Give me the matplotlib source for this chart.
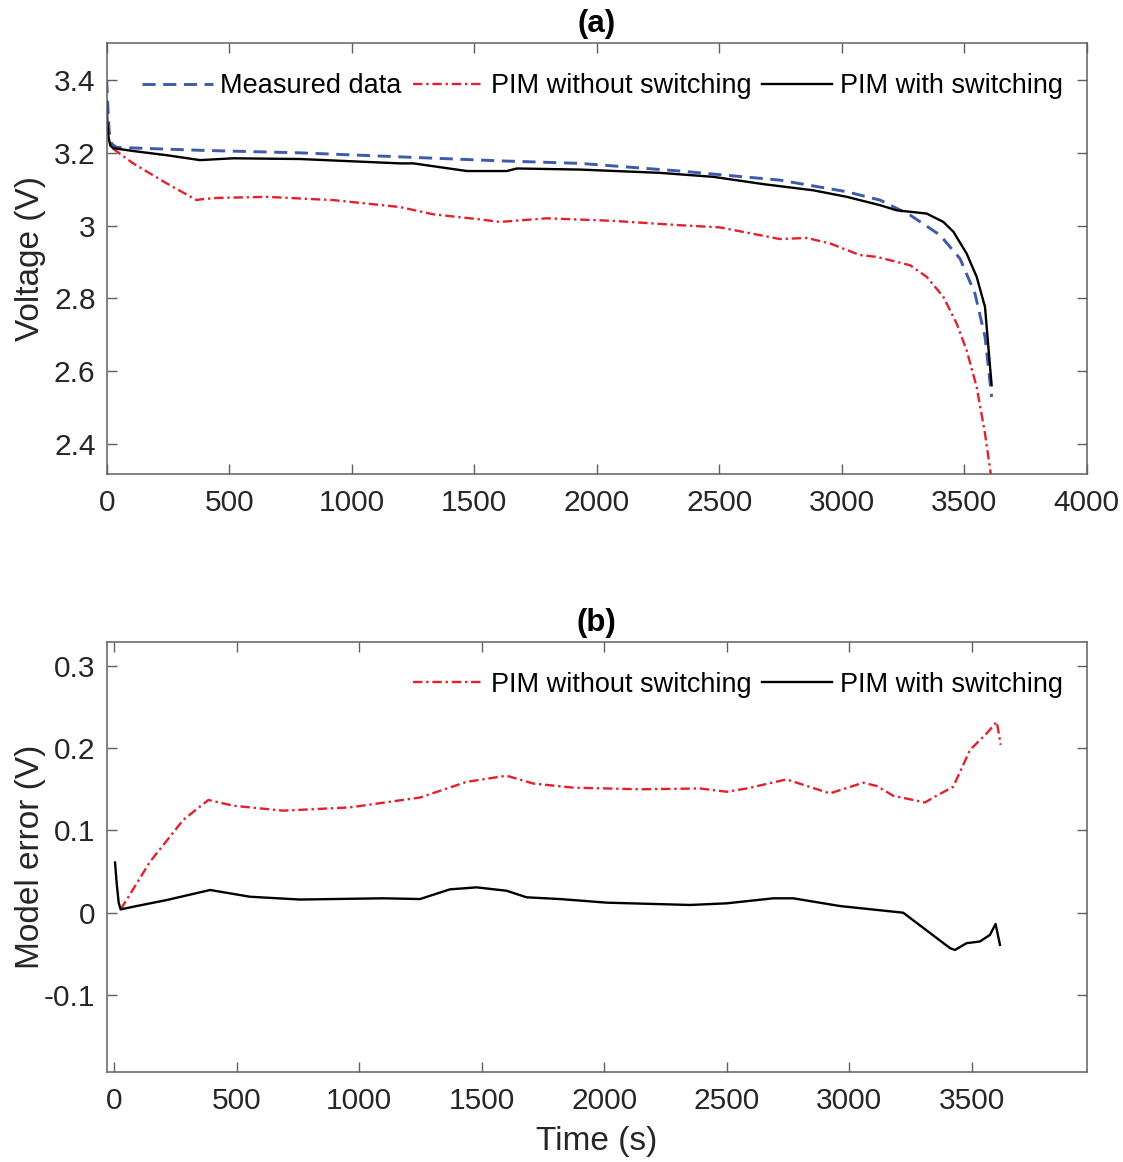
import matplotlib
matplotlib.use("Agg")
import matplotlib.pyplot as plt

plt.rcParams['font.family'] = ['Liberation Sans', 'DejaVu Sans']
plt.rcParams['axes.unicode_minus'] = False

# ---- data (a) ----
meas_t = [0, 5, 10, 20, 40, 381, 789, 1197, 1605, 1932, 2340, 2748, 3021, 3157,
          3279, 3401, 3483, 3544, 3585, 3612]
meas_v = [3.40, 3.32, 3.26, 3.225, 3.215, 3.207, 3.200, 3.189, 3.178, 3.171, 3.150,
          3.125, 3.093, 3.070, 3.029, 2.974, 2.909, 2.813, 2.694, 2.529]

sw_t = [0, 3, 8, 15, 26, 108, 250, 381, 517, 789, 1197, 1252, 1470, 1605, 1633, 1674,
        1932, 2258, 2476, 2680, 2884, 3021, 3157, 3224, 3347, 3415, 3456, 3510, 3551,
        3585, 3602, 3612]
sw_v = [3.34, 3.28, 3.24, 3.22, 3.213, 3.205, 3.193, 3.180, 3.185, 3.183, 3.171, 3.171,
        3.150, 3.150, 3.150, 3.157, 3.154, 3.145, 3.134, 3.114, 3.097, 3.079, 3.056,
        3.042, 3.033, 3.010, 2.983, 2.923, 2.859, 2.776, 2.639, 2.561]

nosw_t = [25, 108, 245, 367, 381, 449, 653, 925, 1197, 1333, 1524, 1605, 1796, 2068,
          2340, 2503, 2748, 2857, 2952, 3074, 3143, 3279, 3347, 3415, 3469, 3510, 3551,
          3585, 3608, 3622]
nosw_v = [3.212, 3.171, 3.116, 3.070, 3.072, 3.076, 3.079, 3.070, 3.051, 3.031, 3.017,
          3.010, 3.020, 3.013, 3.001, 2.995, 2.963, 2.966, 2.951, 2.919, 2.914, 2.891,
          2.859, 2.804, 2.731, 2.657, 2.556, 2.428, 2.319, 2.20]

# ---- data (b) ----
err_nosw_t = [26, 146, 282, 384, 486, 690, 962, 1248, 1438, 1601, 1710, 1873, 2146,
              2391, 2500, 2581, 2744, 2921, 3057, 3112, 3180, 3309, 3343, 3424, 3493,
              3561, 3602, 3618]
err_nosw = [0.004, 0.062, 0.113, 0.137, 0.130, 0.124, 0.128, 0.140, 0.159, 0.1665,
            0.157, 0.152, 0.150, 0.151, 0.147, 0.151, 0.162, 0.145, 0.158, 0.154,
            0.142, 0.134, 0.140, 0.153, 0.198, 0.218, 0.232, 0.204]

err_sw_t = [3, 10, 18, 26, 78, 214, 391, 554, 758, 1097, 1248, 1370, 1479, 1601, 1683,
            1819, 2010, 2350, 2500, 2690, 2771, 2962, 3220, 3411, 3431, 3479, 3533,
            3574, 3597, 3615]
err_sw = [0.061, 0.035, 0.012, 0.004, 0.0073, 0.0154, 0.0276, 0.0194, 0.016, 0.0175,
          0.0166, 0.0284, 0.0308, 0.0267, 0.0187, 0.0166, 0.0122, 0.0094, 0.0114,
          0.0175, 0.0175, 0.0081, 0.000, -0.043, -0.0453, -0.037, -0.035, -0.027,
          -0.0137, -0.039]

xticks_a = [0, 500, 1000, 1500, 2000, 2500, 3000, 3500, 4000]
yticks_a = [2.4, 2.6, 2.8, 3.0, 3.2, 3.4]
ylabels_a = ['2.4', '2.6', '2.8', '3', '3.2', '3.4']
xticks_b = [0, 500, 1000, 1500, 2000, 2500, 3000, 3500]
yticks_b = [-0.1, 0, 0.1, 0.2, 0.3]
ylabels_b = ['-0.1', '0', '0.1', '0.2', '0.3']

BLUE = '#3E5BA9'
RED = '#E3202B'
SPINE = '#606060'
TXT = '#262626'

W, H = 1123, 1162
fig = plt.figure(figsize=(W / 100, H / 100), dpi=100)
ax1 = fig.add_axes([106.7 / W, 1 - 474 / H, 980 / W, 431 / H])
ax2 = fig.add_axes([106.7 / W, 1 - 1072 / H, 980 / W, 430 / H])

ax1.plot(meas_t, meas_v, color=BLUE, lw=2.1, dashes=(4.5, 2.6), label='Measured data')
ax1.plot(nosw_t, nosw_v, color=RED, lw=1.7, dashes=(4, 1.6, 1, 1.6),
         label='PIM without switching')
ax1.plot(sw_t, sw_v, color='black', lw=1.7, label='PIM with switching')

ax2.plot(err_nosw_t, err_nosw, color=RED, lw=1.7, dashes=(4, 1.6, 1, 1.6),
         label='PIM without switching')
ax2.plot(err_sw_t, err_sw, color='black', lw=1.7, label='PIM with switching')

ax1.set_xlim(0, 4000)
ax1.set_ylim(2.317, 3.502)
ax2.set_xlim(-31, 3969)
ax2.set_ylim(-0.1936, 0.329)

ax1.set_xticks(xticks_a)
ax1.set_xticklabels([str(v) for v in xticks_a])
ax1.set_yticks(yticks_a)
ax1.set_yticklabels(ylabels_a)
ax2.set_xticks(xticks_b)
ax2.set_xticklabels([str(v) for v in xticks_b])
ax2.set_yticks(yticks_b)
ax2.set_yticklabels(ylabels_b)

for ax in (ax1, ax2):
    for s in ax.spines.values():
        s.set_color(SPINE)
        s.set_linewidth(1.1)
    ax.tick_params(direction='in', length=7, width=1.0, color=SPINE,
                   top=True, right=True, labelsize=21.5, labelcolor=TXT)
    ax.tick_params(axis='x', pad=11)
    ax.tick_params(axis='y', pad=8)
    leg = ax.legend(loc='upper right', bbox_to_anchor=((1063 - 106.7) / 980, 1 - 30 / 431),
                    ncol=3, frameon=False, fontsize=19.5, handlelength=2.6,
                    handletextpad=0.28, columnspacing=0.4, borderpad=0,
                    borderaxespad=0)
    for t in leg.get_texts():
        t.set_color('black')

ax1.set_title('(a)', fontsize=22.5, fontweight='bold', pad=8)
ax2.set_title('(b)', fontsize=22.5, fontweight='bold', pad=8)

ax1.set_ylabel('Voltage (V)', fontsize=24, color=TXT)
ax1.yaxis.set_label_coords(-0.062, 0.5)
ax2.set_ylabel('Model error (V)', fontsize=24, color=TXT)
ax2.yaxis.set_label_coords(-0.062, 0.5)
ax2.set_xlabel('Time (s)', fontsize=24, color=TXT)
ax2.xaxis.set_label_coords(0.5, -0.125)

fig.savefig('out.png', dpi=100)
